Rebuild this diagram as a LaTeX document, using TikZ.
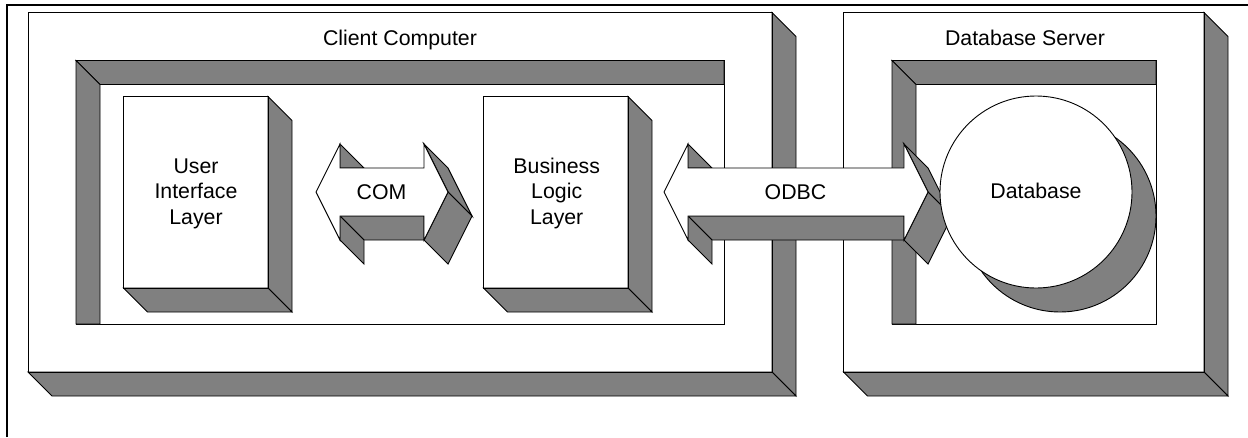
\documentclass[tikz,border=0pt]{standalone}
\usepackage{fontspec}
\setmainfont{Liberation Sans}
\newcommand{\BoxThreeD}[4]{% x1,y1,x2,y2 : white face with shadow to lower right
  \fill[white] (#1,#2) rectangle (#3,#4);
  \draw[facet] (#3,#2) -- (#3+24,#2+24) -- (#3+24,#4+24) -- (#3,#4) -- cycle;
  \draw[facet] (#1,#4) -- (#3,#4) -- (#3+24,#4+24) -- (#1+24,#4+24) -- cycle;
  \draw[edge] (#1,#2) rectangle (#3,#4);
}
\newcommand{\RecessBox}[4]{% x1,y1,x2,y2 : white face with bands on top and left
  \draw[edge,fill=white] (#1,#2) rectangle (#3,#4);
  \draw[facet] (#1,#2) -- (#3,#2) -- (#3,#2+24) -- (#1+24,#2+24) -- cycle;
  \draw[facet] (#1,#2) -- (#1+24,#2+24) -- (#1+24,#4) -- (#1,#4) -- cycle;
}
\newcommand{\DoubleArrow}[2]{% x of left neck, x of right neck
  \draw[facet] (#1,144) -- (#1+24,168) -- (#1,168) -- cycle;
  \draw[facet] (#1,216) -- (#2,216) -- (#2,240) -- (#1+24,240) -- cycle;
  \draw[facet] (#1,216) -- (#1+24,240) -- (#1+24,264) -- (#1,240) -- cycle;
  \draw[facet] (#2,144) -- (#2+24,168) -- (#2+48,216) -- (#2+24,192) -- cycle;
  \draw[facet] (#2+24,192) -- (#2+48,216) -- (#2+24,264) -- (#2,240) -- cycle;
  \draw[edge,fill=white] (#1-24,192) -- (#1,144) -- (#1,168) -- (#2,168) -- (#2,144)
    -- (#2+24,192) -- (#2,240) -- (#2,216) -- (#1,216) -- (#1,240) -- cycle;
}
\tikzset{
  edge/.style={draw=black,line width=0.9pt,line join=miter},
  facet/.style={draw=black,line width=0.9pt,fill=shade3d,line join=miter},
  label3d/.style={font=\fontsize{21.3}{25.5}\selectfont,align=center,inner sep=0pt,text=black,anchor=base},
}
\definecolor{shade3d}{HTML}{808080}
\begin{document}
\begin{tikzpicture}[x=1pt,y=-1pt]
\useasboundingbox (0,0) rectangle (1248,437);
\fill[white] (0,0) rectangle (1248,437);
\draw[black,line width=2pt,line join=miter] (7,437) -- (7,5) -- (1248,5);
% client computer
\BoxThreeD{28}{12.5}{772}{372}
\RecessBox{76}{60.5}{724}{324}
\BoxThreeD{123.5}{96.5}{268}{288}
\BoxThreeD{483.5}{96.5}{628}{288}
% database server
\BoxThreeD{843.5}{12.5}{1204}{372}
\RecessBox{892}{60.5}{1156}{324}
% arrows
\DoubleArrow{340}{424}
\DoubleArrow{688}{904}
% database
\draw[facet] (1060,216) circle [radius=96];
\draw[edge,fill=white] (1036,192) circle [radius=96];
% labels
\node[label3d] (client) at (400,45) {Client Computer};
\node[label3d] (server) at (1025,45) {Database Server};
\node[label3d] (ui) at (196,224) {User\\Interface\\Layer};
\node[label3d] (biz) at (556.7,224) {Business\\Logic\\Layer};
\node[label3d] (com) at (381.5,199) {COM};
\node[label3d] (odbc) at (795.5,199) {ODBC};
\node[label3d] (db) at (1036,198.5) {Database};
\end{tikzpicture}
\end{document}
